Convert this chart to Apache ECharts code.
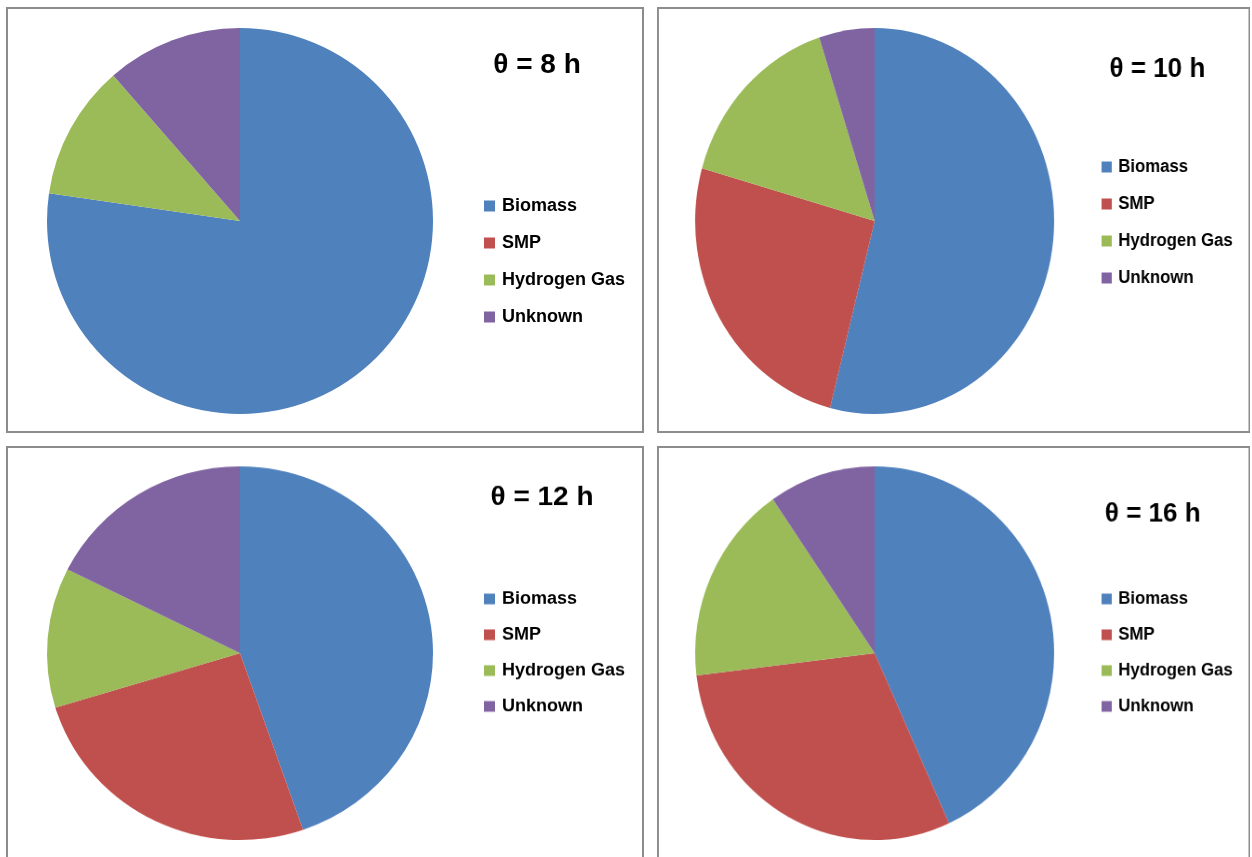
<!DOCTYPE html>
<html>
<head>
<meta charset="utf-8">
<title>Product distribution by retention time</title>
<script src="https://cdn.jsdelivr.net/npm/echarts@6/dist/echarts.min.js"></script>
<style>
  html, body { margin: 0; padding: 0; background: #ffffff; }
  body { width: 1252px; height: 857px; position: relative; overflow: hidden; }
  .panel {
    position: absolute;
    width: 638px;
    height: 426px;
    transform-origin: 0 0;
  }
</style>
</head>
<body>
<div id="p8" class="panel"></div>
<div id="p10" class="panel"></div>
<div id="p12" class="panel"></div>
<div id="p16" class="panel"></div>
<script>
// Product categories shown in every pie and legend
const categories = ['Biomass', 'SMP', 'Hydrogen Gas', 'Unknown'];

// Chart titles (hydraulic retention time)
const titles = ['θ = 8 h', 'θ = 10 h', 'θ = 12 h', 'θ = 16 h'];

// Percentage share of each category, per retention time
const share8h  = [77.3, 0.0, 11.3, 11.4];
const share10h = [54.0, 25.4, 15.6, 5.0];
const share12h = [44.7, 25.6, 12.1, 17.6];
const share16h = [43.2, 29.9, 17.3, 9.6];

const palette = ['#4F81BD', '#C0504D', '#9BBB59', '#8064A2'];
const FONT = '"Liberation Sans", Arial, sans-serif';

// Placement of each chart box on the page and its title / legend spots
// (the lower boxes run past the bottom of the page, so their frame is taller)
const layout = [
  { id: 'p8',  values: share8h,  left: 6,   top: 7,     sx: 1.0,  sy: 1.0,   frameH: 424, titleX: 531, titleY: 57, legendY: 198 },
  { id: 'p10', values: share10h, left: 657, top: 7,     sx: 0.93, sy: 1.0,   frameH: 424, titleX: 538, titleY: 61, legendY: 159 },
  { id: 'p12', values: share12h, left: 6,   top: 445.5, sx: 1.0,  sy: 0.968, frameH: 440, titleX: 536, titleY: 52, legendY: 157 },
  { id: 'p16', values: share16h, left: 657, top: 445.5, sx: 0.93, sy: 0.968, frameH: 440, titleX: 533, titleY: 69, legendY: 157 }
];

layout.forEach(function (cfg, i) {
  const el = document.getElementById(cfg.id);
  el.style.left = cfg.left + 'px';
  el.style.top = cfg.top + 'px';
  el.style.transform = 'scale(' + cfg.sx + ',' + cfg.sy + ')';

  const chart = echarts.init(el, null, { renderer: 'canvas' });
  chart.setOption({
    animation: false,
    color: palette,
    graphic: [{
      type: 'rect',
      silent: true,
      shape: { x: 1, y: 1, width: 636, height: cfg.frameH },
      style: { fill: 'none', stroke: '#8c8c8c', lineWidth: 2 }
    }],
    title: {
      text: titles[i],
      left: cfg.titleX,
      top: cfg.titleY - 15,
      textAlign: 'center',
      padding: 0,
      textStyle: { fontFamily: FONT, fontWeight: 'bold', fontSize: 28, color: '#000000', lineHeight: 32 }
    },
    legend: {
      orient: 'vertical',
      left: 478,
      top: cfg.legendY - 8,
      padding: 0,
      itemWidth: 11,
      itemHeight: 11,
      itemGap: 19,
      icon: 'rect',
      selectedMode: false,
      data: categories,
      textStyle: { fontFamily: FONT, fontWeight: 'bold', fontSize: 18, color: '#000000', lineHeight: 18, padding: [0, 0, 0, 2] }
    },
    series: [{
      type: 'pie',
      center: [234, 214],
      radius: 193,
      startAngle: 90,
      clockwise: true,
      silent: true,
      label: { show: false },
      labelLine: { show: false },
      itemStyle: { borderWidth: 0 },
      emphasis: { disabled: true },
      data: categories.map(function (name, k) {
        return { name: name, value: cfg.values[k] };
      })
    }]
  });
});
</script>
</body>
</html>
